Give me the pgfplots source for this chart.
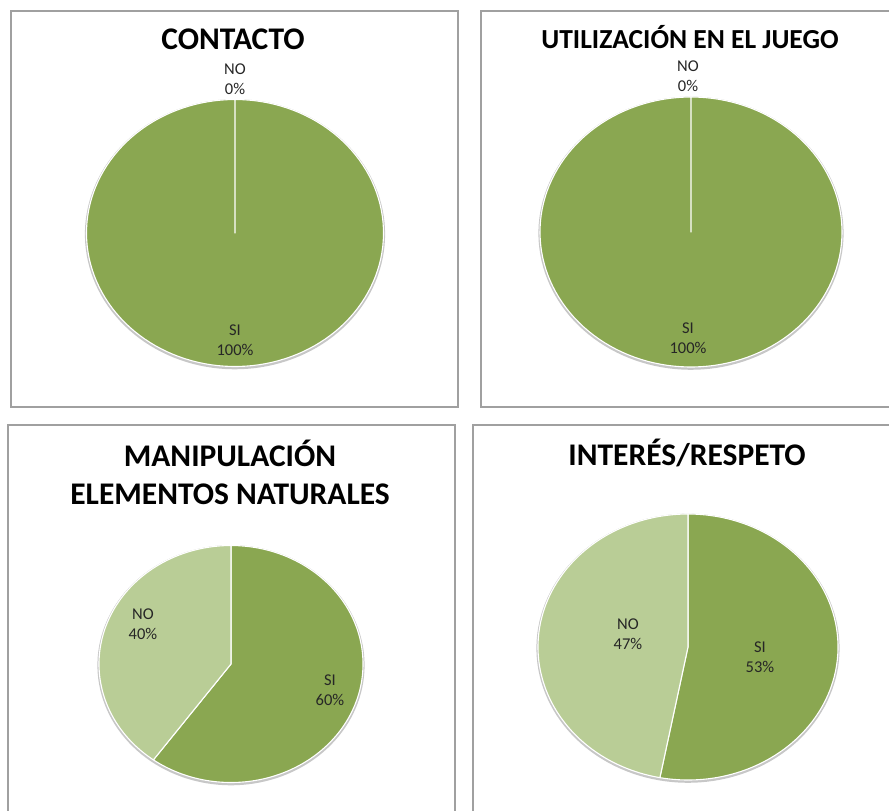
\documentclass[border=0pt]{standalone}
\usepackage{pgfplots}
\pgfplotsset{compat=1.18}
\usepackage{fontspec}
\setmainfont{Carlito}
\definecolor{sicol}{HTML}{8AA751}
\definecolor{nocol}{HTML}{B9CD96}
\definecolor{boxcol}{HTML}{A0A0A0}
\definecolor{labcol}{HTML}{262626}
% pie: center x, center y, radius x, radius y, SI percentage
\newcommand{\pie}[5]{%
  \addplot[draw=none, fill=black!22, domain=0:360, samples=140, variable=\t]
    ({#1+(#3+1.6)*cos(\t)},{#2+1.2-(#4+1.6)*sin(\t)}) -- cycle;
  \addplot[fill=sicol, draw=white, line width=1.1pt, line join=round, domain={90-3.6*#5}:90, samples=140, variable=\t]
    ({#1+#3*cos(\t)},{#2-#4*sin(\t)}) -- (#1,#2) -- cycle;
  \ifdim #5pt<100pt
  \addplot[fill=nocol, draw=white, line width=1.1pt, line join=round, domain=-270:{90-3.6*#5}, samples=140, variable=\t]
    ({#1+#3*cos(\t)},{#2-#4*sin(\t)}) -- (#1,#2) -- cycle;
  \fi
}
\tikzset{ttl/.style={align=center, font=\fontsize{31.5}{38}\selectfont\bfseries, inner sep=0pt},
  lab/.style={align=center, font=\fontsize{16.5}{20}\selectfont, text=labcol, inner sep=0pt}}
\begin{document}
\begin{tikzpicture}
\begin{axis}[name=ax, width=889pt, height=811pt, scale only axis, hide axis,
  xmin=0, xmax=889, ymin=0, ymax=811, y dir=reverse, clip=false]
% boxes
\draw[boxcol, line width=1.3pt] (11,11) rectangle (458,407);
\draw[boxcol, line width=1.3pt] (895,11) -- (481,11) -- (481,407) -- (895,407);
\draw[boxcol, line width=1.3pt] (8,815) -- (8,425) -- (455,425) -- (455,815);
\draw[boxcol, line width=1.3pt] (473,815) -- (473,425) -- (895,425);
% pies
\pie{235}{233}{148.5}{133.5}{100}
\pie{691}{232}{151}{135}{100}
\pie{231}{664}{132}{118.5}{60}
\pie{688}{647}{150}{133}{53}
% titles
\node[ttl] at (233,39) {CONTACTO};
\node[ttl, font=\fontsize{27.5}{33}\selectfont\bfseries] at (690,37) {UTILIZACIÓN EN EL JUEGO};
\node[ttl] at (230,472) {MANIPULACIÓN\\ELEMENTOS NATURALES};
\node[ttl] at (687,453) {INTERÉS/RESPETO};
% data labels
\node[lab] at (235,79) {NO\\0\%};
\node[lab] at (235,340) {SI\\100\%};
\node[lab] at (688,76) {NO\\0\%};
\node[lab] at (688,338) {SI\\100\%};
\node[lab] at (143,624) {NO\\40\%};
\node[lab] at (330,690) {SI\\60\%};
\node[lab] at (628,634) {NO\\47\%};
\node[lab] at (760,657) {SI\\53\%};
\end{axis}
\pgfresetboundingbox
\path[use as bounding box] (ax.south west) rectangle (ax.north east);
\end{tikzpicture}
\end{document}
